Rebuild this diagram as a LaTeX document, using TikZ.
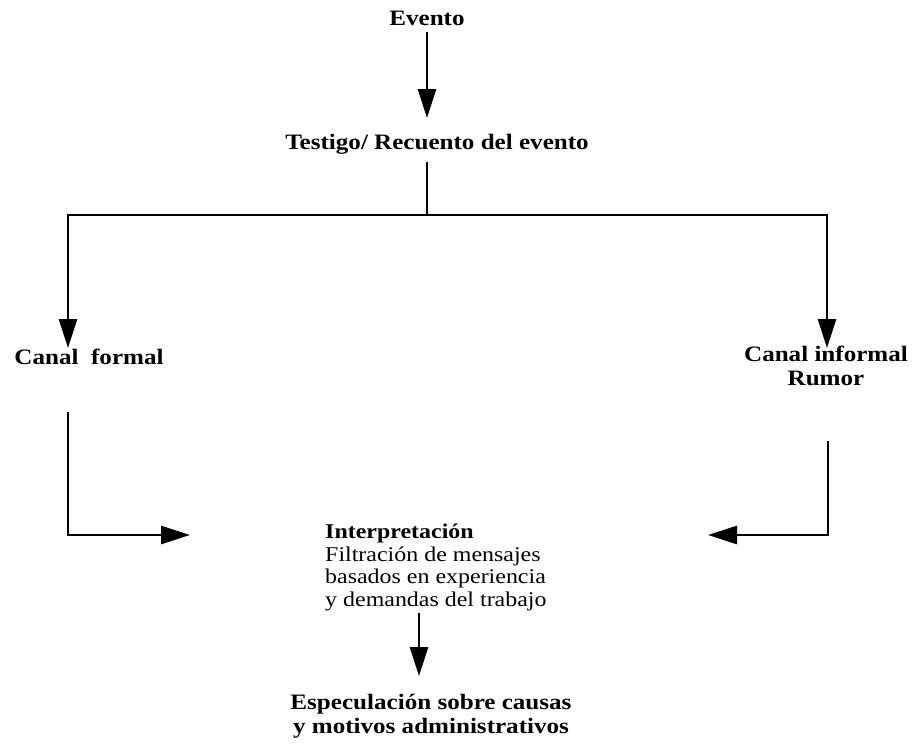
\documentclass[tikz,border=0pt]{standalone}
\usepackage{fontspec}
\setmainfont{Liberation Serif}[FakeStretch=1.14]
\usetikzlibrary{arrows.meta}
\begin{document}
\begin{tikzpicture}[x=1pt,y=-1pt,
  lbl/.style={inner sep=0pt, font=\fontsize{22}{24}\selectfont\bfseries, align=center},
  body/.style={inner sep=0pt, font=\fontsize{21}{22.5}\selectfont, align=left},
  conn/.style={line width=2.8pt, line join=miter},
  arr/.style={conn, -{Triangle[length=29pt,width=18pt]}}]
\useasboundingbox (0,0) rectangle (913,748);
% text
\node[lbl, anchor=base] (evento) at (427,25) {Evento};
\node[lbl, anchor=base] (testigo) at (437,149) {Testigo/ Recuento del evento};
\node[lbl, anchor=base] (formal) at (89,364) {Canal\ \ formal};
\node[lbl, anchor=base] (informal) at (826,385) {Canal informal\\Rumor};
\node[body, anchor=base west] (interp) at (325,606) {{\bfseries Interpretación}\\Filtración de mensajes\\basados en experiencia\\y demandas del trabajo};
\node[lbl, anchor=base] (espec) at (431,733) {Especulación sobre causas\\y motivos administrativos};
% coordinates
\coordinate (e1) at (427,32);
\coordinate (t1) at (427,118);
\coordinate (t2) at (427,162);
\coordinate (split) at (427,215);
\coordinate (ltip) at (68,348);
\coordinate (rtip) at (827,348);
\coordinate (l1) at (68,412);
\coordinate (ltip2) at (190,535);
\coordinate (r1) at (828,441);
\coordinate (rtip2) at (708,535);
\coordinate (i1) at (419,613);
\coordinate (i2) at (419,676);
% connectors
\draw[arr] (e1) -- (t1);
\draw[conn] (t2) -- (split);
\draw[arr] (split) -| (ltip);
\draw[arr] (split) -| (rtip);
\draw[arr] (l1) |- (ltip2);
\draw[arr] (r1) |- (rtip2);
\draw[arr] (i1) -- (i2);
\end{tikzpicture}
\end{document}
